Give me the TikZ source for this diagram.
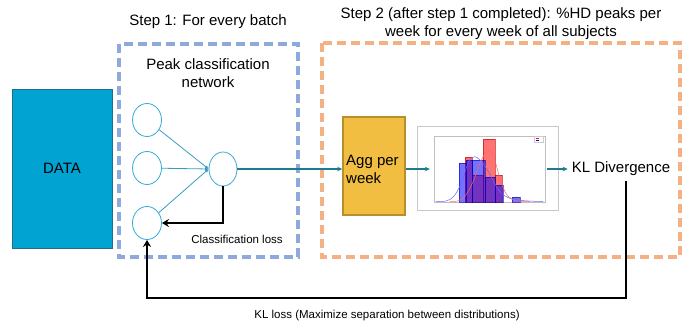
\documentclass[tikz,border=0pt]{standalone}
\usepackage{fontspec}
\setmainfont{Liberation Sans}
\usetikzlibrary{arrows.meta,shapes.geometric,calc}
\definecolor{datafill}{RGB}{0,163,209}
\definecolor{dataedge}{RGB}{31,111,139}
\definecolor{aggfill}{RGB}{241,190,66}
\definecolor{aggedge}{RGB}{184,144,43}
\definecolor{tealc}{RGB}{29,123,142}
\definecolor{circc}{RGB}{53,169,216}
\definecolor{netc}{RGB}{58,155,192}
\definecolor{bluedash}{RGB}{142,169,219}
\definecolor{orangedash}{RGB}{244,177,131}
\definecolor{framec}{RGB}{200,200,200}
\tikzset{
  bigtext/.style={font=\fontsize{15}{18}\selectfont, inner sep=0pt},
  smalltext/.style={font=\fontsize{11.5}{14}\selectfont, inner sep=0pt},
  neuron/.style={ellipse, draw=circc, line width=0.8pt, fill=white, minimum width=29pt, minimum height=33pt, inner sep=0pt},
  netline/.style={draw=netc, line width=0.8pt, -{Latex[length=3.5pt,width=3.5pt]}},
  tealarrow/.style={draw=tealc, line width=1.3pt, -{Stealth[length=5pt,width=4.5pt]}},
  blkarrow/.style={draw=black, line width=2pt, -{Stealth[length=7pt,width=8pt]}},
  dashbox/.style={line width=3.6pt, dash pattern=on 9pt off 5pt},
}
\begin{document}
\begin{tikzpicture}[x=1pt,y=-1pt]
\useasboundingbox (0,0) rectangle (690,329);
% dashed boxes
\draw[dashbox, bluedash] (119,44) rectangle (298,257);
\draw[dashbox, orangedash] (322,43) rectangle (680,257);
% titles
\node[bigtext] (t1) at (208,22) {Step 1: For every batch};
\node[bigtext, align=center] (t2) at (501,24) {Step 2 (after step 1 completed): \%HD peaks per\\week for every week of all subjects};
\node[bigtext, align=center] (pcn) at (208,73) {Peak classification\\network};
% data
\node[draw=dataedge, fill=datafill, line width=1pt, minimum width=100pt, minimum height=159pt, inner sep=0pt, font=\fontsize{15}{18}\selectfont] (data) at (62,168.5) {DATA};
% neurons
\node[neuron] (c1) at (147,120) {};
\node[neuron] (c2) at (147,168) {};
\node[neuron] (c3) at (147,223) {};
\node[neuron, minimum width=28pt, minimum height=34pt] (out) at (223,169) {};
\draw[netline] (c1) -- (out.west);
\draw[netline] (c2) -- (out.west);
\draw[netline] (c3) -- (out.west);
% classification loss
\draw[blkarrow] (out.south) |- (c3.east);
\node[smalltext] (cl) at (237,239) {Classification loss};
% agg
\node[draw=aggedge, fill=aggfill, line width=1.5pt, minimum width=62pt, minimum height=98pt, inner sep=0pt] (agg) at (374,166) {};
\node[bigtext, align=left, anchor=west] (aggt) at (346,169) {Agg per\\week};
\draw[tealarrow] (out.east) -- (out.east -| agg.west);
% histogram figure
\node[draw=framec, fill=white, line width=0.8pt, minimum width=141pt, minimum height=84pt, inner sep=0pt] (hist) at (487.5,168) {};
\node[draw=black!25, line width=0.4pt, minimum width=111pt, minimum height=66pt, inner sep=0pt] (plot) at (489.5,169) {};
\begin{scope}
  \clip (plot.north west) rectangle (plot.south east);
  % red bars
  \foreach \a/\b/\t in {465.3/472/157.3, 472/482.7/175, 482.7/495.3/139, 495.3/501.7/175}
    \draw[draw=red!70!black, fill=red, fill opacity=0.55, draw opacity=0.6, line width=0.3pt] (\a,201.7) rectangle (\b,\t);
  % blue bars
  \foreach \a/\b/\t in {459/466/163.3, 466/472/160, 472/485/160, 485/495.3/176.7, 495.3/503.3/185, 511.7/520/197.3}
    \draw[draw=blue!70!black, fill=blue, fill opacity=0.55, draw opacity=0.6, line width=0.3pt] (\a,201.7) rectangle (\b,\t);
  % kde curves
  \draw[blue!60, line width=0.5pt] plot[smooth, tension=0.7] coordinates {(436,201.5) (450,199.5) (460,186) (467,166) (472,157.5) (479,159) (488,171) (498,189) (508,197.5) (522,200.5) (543,201.5)};
  \draw[red!60, line width=0.5pt] plot[smooth, tension=0.7] coordinates {(450,201.5) (462,199) (472,184) (481,161) (488,151) (494,158) (501,182) (508,196) (518,201) (530,201.5)};
\end{scope}
% legend
\draw[black!20, line width=0.3pt, fill=white] (534.5,136.5) rectangle (543.5,142.5);
\draw[red, line width=0.8pt] (535.5,138.3) -- (538.5,138.3);
\draw[blue, line width=0.8pt] (535.5,140.7) -- (538.5,140.7);
% arrows through
\draw[tealarrow, shorten >=4pt] (agg.east |- plot.west) -- (plot.west);
\node[bigtext, inner ysep=5pt] (kl) at (621,169) {KL Divergence};
\draw[tealarrow, shorten <=2pt, shorten >=4pt] (plot.east) -- (kl.west);
% KL loss feedback
\coordinate (fbc) at (626,298);
\draw[blkarrow] (kl.south -| fbc) -- (fbc) -| (c3.south);
\node[smalltext] (kll) at (387,316) {KL loss (Maximize separation between distributions)};
\end{tikzpicture}
\end{document}
